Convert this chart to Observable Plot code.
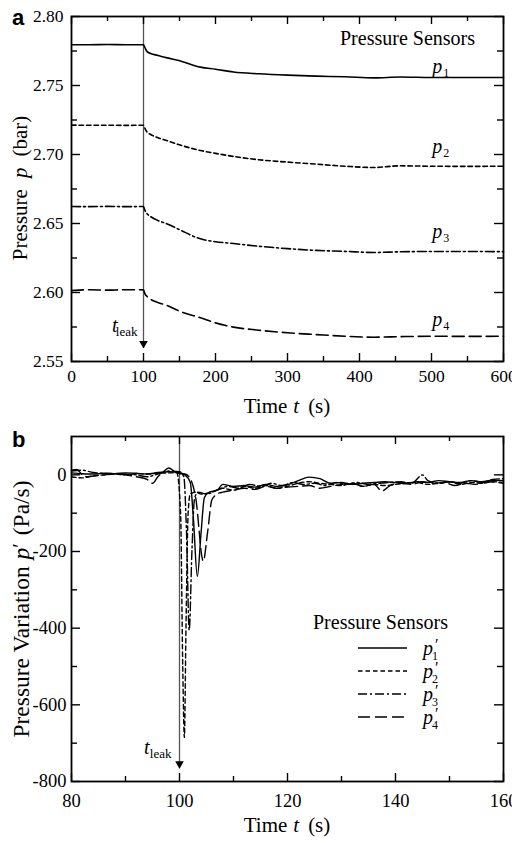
<!DOCTYPE html>
<html><head><meta charset="utf-8">
<script src="https://cdn.jsdelivr.net/npm/d3@7"></script>
<script src="https://cdn.jsdelivr.net/npm/@observablehq/plot@0.6"></script>
<style>
html,body{margin:0;padding:0;background:#fff;}
#wrap{position:relative;width:512px;height:843px;overflow:hidden;background:#fff;}
#pa,#pb{position:absolute;left:0;}
#pa{top:0}
#pb{top:420px}
</style></head><body>
<div id="wrap"><div id="pa"></div><div id="pb"></div></div>
<script>
const SERIF = "'Liberation Serif','Times New Roman',serif";
const SANS = "'Liberation Sans',Arial,sans-serif";

// ---------- Panel a data ----------
const tTop = [0,25,50,75,100,102,105,110,120,133,150,179,200,225,260,300,340,380,420,457,500,550,600];
const p1 = [2.7795,2.7795,2.7797,2.7795,2.7795,2.7775,2.7745,2.7732,2.7718,2.7700,2.7680,2.7633,2.7618,2.7598,2.7585,2.7575,2.7568,2.7563,2.7555,2.7562,2.7558,2.7558,2.7558];
const p2 = [2.7213,2.7212,2.7212,2.7211,2.7212,2.7190,2.7162,2.7145,2.7122,2.7100,2.7070,2.7029,2.7008,2.6986,2.6962,2.6945,2.6930,2.6915,2.6906,2.6918,2.6915,2.6914,2.6915];
const p3 = [2.6623,2.6622,2.6624,2.6622,2.6623,2.6595,2.6570,2.6550,2.6522,2.6497,2.6455,2.6389,2.6368,2.6355,2.6335,2.6318,2.6305,2.6298,2.6290,2.6295,2.6297,2.6297,2.6296];
const p4 = [2.6015,2.6020,2.6017,2.6020,2.6019,2.5990,2.5971,2.5950,2.5928,2.5906,2.5865,2.5817,2.5780,2.5749,2.5727,2.5708,2.5695,2.5683,2.5676,2.5680,2.5683,2.5682,2.5683];
const xTicksA = [0,100,200,300,400,500,600];
const xMinorA = [50,150,250,350,450,550];
const yTicksA = [2.55,2.60,2.65,2.70,2.75,2.80];
const yMinorA = [2.575,2.625,2.675,2.725,2.775];
const labelTA = 508;
const labelVA = [2.7594,2.7011,2.6395,2.5757];
const subs = ["1","2","3","4"];
const tLeak = 100;
const leakLabelA = 2.5717, arrowTipA = 2.5594;

// ---------- Panel b data ----------
const t1b = [80,82,84,86,88,90,92,94,96,98,100,101,102,102.6,103.3,104,104.6,105.5,107,108,110,112,114,116,118,120,122,124,126,128,130,132,134,136,138,140,142,144,146,148,150,152,154,156,158,160];
const v1b = [5,3,2,4,3,5,4,2,6,8,5,0,-20,-120,-265,-150,-60,-45,-40,-25,-30,-28,-32,-25,-30,-26,-15,-6,-10,-22,-20,-25,-22,-20,-18,-20,-22,-18,-20,-15,-18,-20,-15,-18,-14,-15];
const t2b = [80,82,84,86,88,90,92,94,96,98,99.5,100.2,100.6,100.9,101.2,101.6,102,103,104,106,108,110,112,114,116,118,120,122,124,126,128,130,132,134,136,138,140,142,144,146,148,150,152,154,156,158,160];
const v2b = [-5,-8,-3,0,2,0,3,2,4,5,5,-100,-500,-685,-400,-100,-50,-45,-50,-45,-35,-40,-30,-35,-28,-35,-30,-22,-18,-22,-25,-28,-22,-30,-25,-28,-25,-22,-20,-25,-22,-18,-25,-20,-22,-18,-20];
const t3b = [80,82,84,86,88,90,92,94,96,98,100,100.8,101.3,101.8,102.3,102.8,103.5,105,107,109,111,113,115,117,119,121,123,125,127,129,131,133,135,137,139,141,143,145,146,148,150,152,154,156,158,160];
const v3b = [10,12,6,4,3,2,0,-5,2,10,8,-5,-150,-405,-200,-60,-45,-50,-40,-30,-35,-25,-30,-22,-28,-20,-25,-22,-28,-20,-25,-20,-25,-22,-20,-18,-22,0,-15,-22,-18,-22,-15,-20,-12,-10];
const t4b = [80,81,82,83,84,86,88,90,92,94,95,96,97,98,99,100,101,102,103,104.4,105.2,106,107,108,110,112,114,116,118,120,122,124,126,128,130,132,134,136,137.5,139,141,143,145,147,149,151,153,155,157,160];
const v4b = [12,14,0,-5,-3,0,2,0,-5,-12,-22,-5,8,18,10,3,2,-10,-60,-225,-150,-65,-50,-45,-40,-35,-38,-30,-35,-32,-30,-28,-35,-30,-25,-22,-30,-25,-42,-28,-22,-25,-18,-22,-20,-28,-22,-25,-18,-22];
const xTicksB = [80,100,120,140,160];
const xMinorB = [90,110,130,150];
const yTicksB = [-800,-600,-400,-200,0];
const yMinorB = [-700,-500,-300,-100];
const leakLabelB = -728, arrowTipB = -767;

const dashes = [null, "4.5,3", "9,3,2,3", "12,5"];

// ---------- helpers ----------
function frameTicks(xMaj, xMin, yMaj, yMin, xd, yd, W, H) {
  const kx = (xd[1]-xd[0])/W, ky = (yd[1]-yd[0])/H;
  const st = {stroke: "black", strokeWidth: 1.4};
  const m = [];
  for (const [arr, len] of [[xMaj, 8], [xMin, 5]]) {
    m.push(Plot.ruleX(arr, {x: d => d, y1: yd[0], y2: yd[0] + len*ky, ...st}));
    m.push(Plot.ruleX(arr, {x: d => d, y1: yd[1], y2: yd[1] - len*ky, ...st}));
  }
  for (const [arr, len] of [[yMaj, 9], [yMin, 6]]) {
    m.push(Plot.ruleY(arr, {y: d => d, x1: xd[0], x2: xd[0] + len*kx, ...st}));
    m.push(Plot.ruleY(arr, {y: d => d, x1: xd[1], x2: xd[1] - len*kx, ...st}));
  }
  return m;
}
function addText(svg, {x, y, rotate = 0, anchor = "middle", size = 20, family = SERIF, weight = null, parts}) {
  const t = d3.select(svg).append("text")
    .attr("transform", `translate(${x},${y}) rotate(${rotate})`)
    .attr("text-anchor", anchor).attr("font-family", family)
    .attr("font-size", size).attr("font-weight", weight).attr("fill", "black");
  for (const p of parts) {
    t.append("tspan").attr("font-style", p.italic ? "italic" : null)
      .attr("dx", p.dx || 0).attr("dy", p.dy || 0)
      .attr("font-size", p.size || null).text(p.text);
  }
  return t;
}

// ---------- Panel a ----------
const seriesA = [p1, p2, p3, p4];
const xdA = [0, 600], ydA = [2.55, 2.80];
const svgA = Plot.plot({
  width: 512, height: 420,
  marginLeft: 71, marginRight: 9, marginTop: 16, marginBottom: 59,
  style: {fontFamily: SERIF, fontSize: "18px", background: "white", color: "black"},
  x: {domain: xdA},
  y: {domain: ydA},
  marks: [
    Plot.ruleX([tLeak], {x: d => d, y1: ydA[1], y2: arrowTipA, stroke: "#555", strokeWidth: 1.3}),
    Plot.dot([tLeak], {x: d => d, y: arrowTipA, symbol: "triangle", r: 3.2, rotate: 180, fill: "black", stroke: "none", dy: -5}),
    ...seriesA.map((s, i) => Plot.line(tTop, {x: d => d, y: (d, j) => s[j], curve: "monotone-x",
      stroke: "black", strokeWidth: 1.6, strokeDasharray: dashes[i]})),
    Plot.text(labelVA, {x: labelTA, y: d => d, text: () => "p", fontStyle: "italic", fontSize: 20, lineAnchor: "bottom", fontFamily: SERIF}),
    Plot.text(labelVA, {x: labelTA, y: d => d, text: (d, i) => subs[i], fontSize: 12, lineAnchor: "bottom", textAnchor: "start", dx: 6, dy: 4, fontFamily: SERIF}),
    Plot.text(["t"], {x: tLeak, y: leakLabelA, text: d => d, fontStyle: "italic", fontSize: 20, lineAnchor: "bottom", textAnchor: "end", dx: -26, fontFamily: SERIF}),
    Plot.text(["leak"], {x: tLeak, y: leakLabelA, text: d => d, fontSize: 13, lineAnchor: "bottom", textAnchor: "end", dx: -6, dy: 4, fontFamily: SERIF}),
    ...frameTicks(xTicksA, xMinorA, yTicksA, yMinorA, xdA, ydA, 432, 345),
    Plot.frame({stroke: "black", strokeWidth: 1.8}),
    Plot.axisX({ticks: xTicksA, tickSize: 0, tickPadding: 8, label: null, tickFormat: d => String(d), fontSize: 17.5}),
    Plot.axisY({ticks: yTicksA, tickSize: 0, tickPadding: 8, label: null, tickFormat: d3.format(".2f"), fontSize: 17.5})
  ]
});
document.getElementById("pa").appendChild(svgA);
addText(svgA, {x: 12, y: 25, anchor: "start", size: 22, family: SANS, weight: "bold", parts: [{text: "a"}]});
addText(svgA, {x: 340, y: 45, anchor: "start", size: 20, parts: [{text: "Pressure Sensors"}]});
addText(svgA, {x: 287, y: 413, size: 21, parts: [{text: "Time"}, {text: "t", italic: true, dx: 6}, {text: "(s)", dx: 9}]});
addText(svgA, {x: 27, y: 188, rotate: -90, size: 21, parts: [{text: "Pressure"}, {text: "p", italic: true, dx: 11}, {text: "(bar)", dx: 11}]});

// ---------- Panel b ----------
const seriesB = [[t1b, v1b], [t2b, v2b], [t3b, v3b], [t4b, v4b]];
const xdB = [80, 160], ydB = [-800, 100];
const svgB = Plot.plot({
  width: 512, height: 423,
  marginLeft: 71, marginRight: 9, marginTop: 16, marginBottom: 62,
  style: {fontFamily: SERIF, fontSize: "18px", background: "white", color: "black"},
  x: {domain: xdB},
  y: {domain: ydB},
  marks: [
    Plot.ruleX([tLeak], {x: d => d, y1: ydB[1], y2: arrowTipB, stroke: "#555", strokeWidth: 1.3}),
    Plot.dot([tLeak], {x: d => d, y: arrowTipB, symbol: "triangle", r: 3.2, rotate: 180, fill: "black", stroke: "none", dy: -5}),
    ...seriesB.map(([T, V], i) => Plot.line(T, {x: d => d, y: (d, j) => V[j], curve: "monotone-x",
      stroke: "black", strokeWidth: 1.4, strokeDasharray: dashes[i]})),
    Plot.text(["t"], {x: tLeak, y: leakLabelB, text: d => d, fontStyle: "italic", fontSize: 20, lineAnchor: "bottom", textAnchor: "end", dx: -30, fontFamily: SERIF}),
    Plot.text(["leak"], {x: tLeak, y: leakLabelB, text: d => d, fontSize: 13, lineAnchor: "bottom", textAnchor: "end", dx: -8, dy: 4, fontFamily: SERIF}),
    ...frameTicks(xTicksB, xMinorB, yTicksB, yMinorB, xdB, ydB, 432, 345),
    Plot.frame({stroke: "black", strokeWidth: 1.8}),
    Plot.axisX({ticks: xTicksB, tickSize: 0, tickPadding: 12, label: null, tickFormat: d => String(d), fontSize: 18.5}),
    Plot.axisY({ticks: yTicksB, tickSize: 0, tickPadding: 5, label: null, tickFormat: d => String(d), fontSize: 18.5})
  ]
});
document.getElementById("pb").appendChild(svgB);
addText(svgB, {x: 12, y: 27, anchor: "start", size: 22, family: SANS, weight: "bold", parts: [{text: "b"}]});
addText(svgB, {x: 287, y: 412, size: 21, parts: [{text: "Time"}, {text: "t", italic: true, dx: 6}, {text: "(s)", dx: 9}]});
addText(svgB, {x: 29, y: 189, rotate: -90, size: 23.5, parts: [{text: "Pressure Variation"}, {text: "p", italic: true, dx: 7}, {text: "′", dy: -2, size: 20}, {text: "(Pa/s)", dx: 8, dy: 2}]});

// legend
const legendY = [228, 251, 274, 297];
addText(svgB, {x: 313, y: 209, anchor: "start", size: 20, parts: [{text: "Pressure Sensors"}]});
const lg = d3.select(svgB).append("g");
legendY.forEach((y, i) => {
  lg.append("line").attr("x1", 358).attr("x2", 407).attr("y1", y).attr("y2", y)
    .attr("stroke", "black").attr("stroke-width", 1.5).attr("stroke-dasharray", dashes[i]);
  addText(svgB, {x: 423, y: y + 7, anchor: "start", size: 20, parts: [{text: "p", italic: true}]});
  addText(svgB, {x: 435, y: y + 2, anchor: "start", size: 16, parts: [{text: "′"}]});
  addText(svgB, {x: 432, y: y + 12, anchor: "start", size: 12, parts: [{text: subs[i]}]});
});
</script></body></html>
